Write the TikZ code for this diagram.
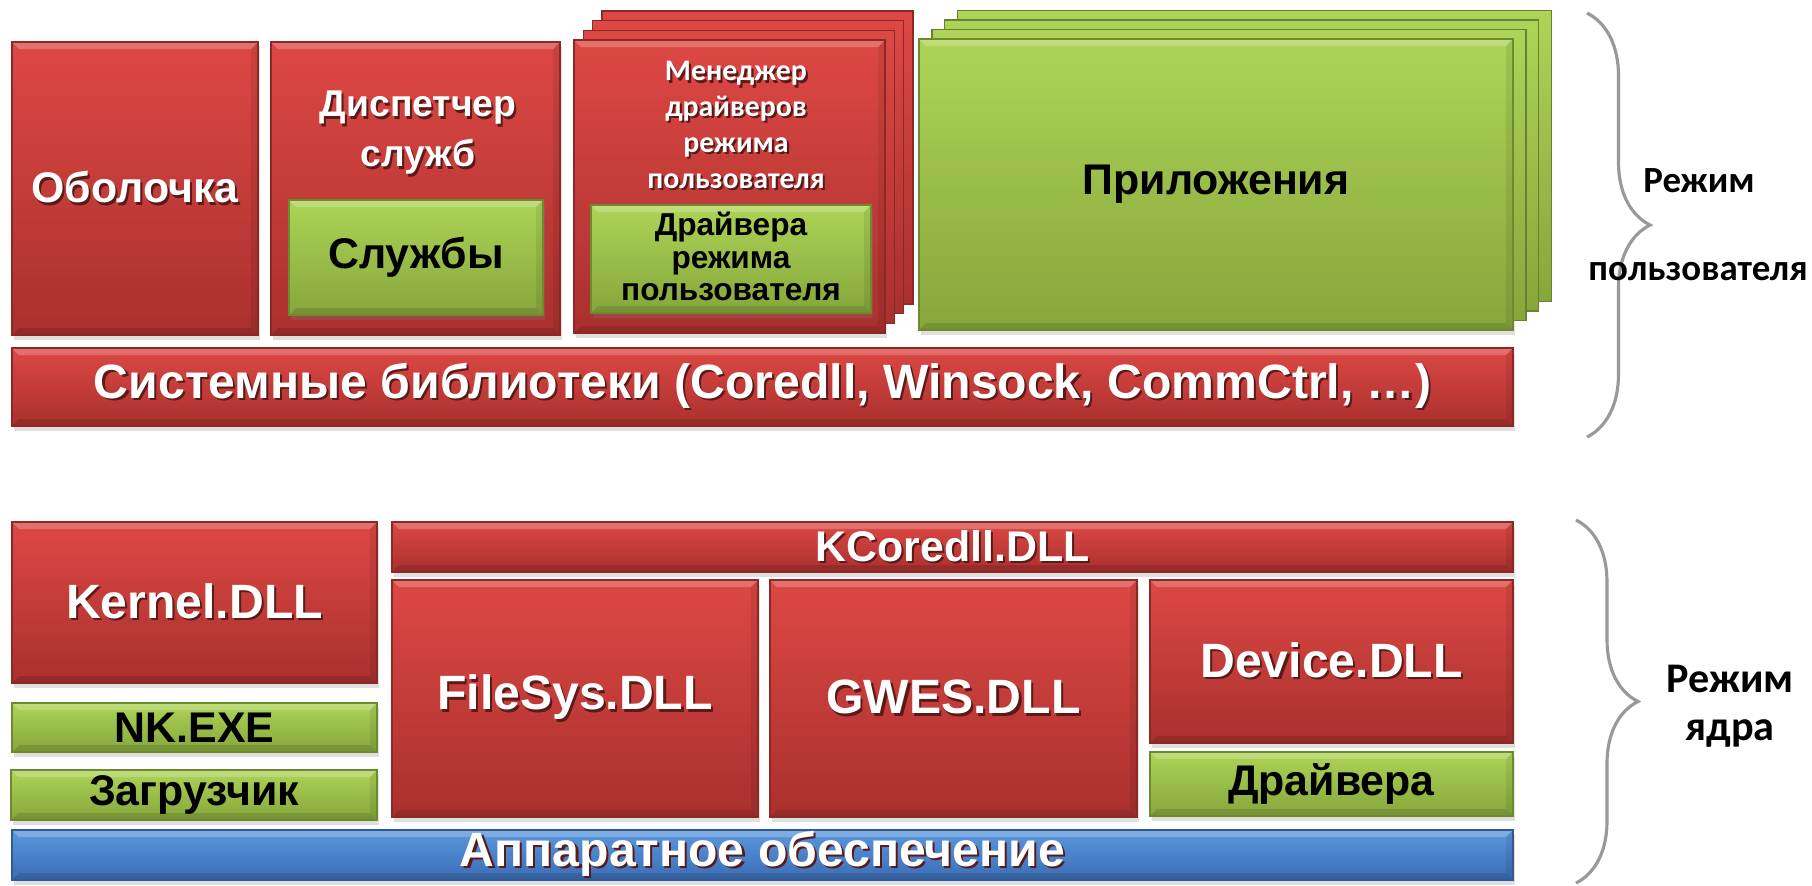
\documentclass[tikz,border=0pt]{standalone}
\usepackage{fontspec}
\setmainfont{Liberation Sans}
\newfontfamily\carlito{Carlito}
\usetikzlibrary{shadows,decorations.pathreplacing}

\definecolor{redtop}{HTML}{DD4844}
\definecolor{redbot}{HTML}{A9302E}
\definecolor{redline}{HTML}{8C2826}
\definecolor{greentop}{HTML}{ADD457}
\definecolor{greenbot}{HTML}{86A63B}
\definecolor{greenline}{HTML}{6E8A2F}
\definecolor{bluetop}{HTML}{5B98DE}
\definecolor{bluebot}{HTML}{3A6DB5}
\definecolor{blueline}{HTML}{2E5A96}
\definecolor{bracegray}{HTML}{999999}
\definecolor{txtshadow}{HTML}{5A1A18}

\newcommand\largetxt{\bfseries\fontsize{13.7}{16}\selectfont}
\newcommand\bigtxt{\bfseries\fontsize{12.2}{15}\selectfont}
\newcommand\midtxt{\bfseries\fontsize{10.6}{14.2}\selectfont}
\newcommand\smalltxt{\bfseries\fontsize{9}{9.2}\selectfont}
% white text with a dark shadow
\newcommand\sh[1]{\leavevmode\rlap{\kern0.6pt\raisebox{-0.7pt}{\textcolor{txtshadow}{#1}}}#1}

\tikzset{
  box/.style={inner sep=0pt, outer sep=0pt, align=center, line width=0.4pt, font=\bigtxt},
  bevel/.style={path picture={
      \fill[white, opacity=0.22] (path picture bounding box.north west) -- (path picture bounding box.north east)
        -- ([shift={(-0.07,-0.07)}]path picture bounding box.north east) -- ([shift={(0.07,-0.07)}]path picture bounding box.north west) -- cycle;
      \fill[black, opacity=0.12] (path picture bounding box.south west) -- (path picture bounding box.south east)
        -- ([shift={(-0.07,0.07)}]path picture bounding box.south east) -- ([shift={(0.07,0.07)}]path picture bounding box.south west) -- cycle;
      \fill[black, opacity=0.08] (path picture bounding box.north east) -- (path picture bounding box.south east)
        -- ([shift={(-0.07,0.07)}]path picture bounding box.south east) -- ([shift={(-0.07,-0.07)}]path picture bounding box.north east) -- cycle;
    }},
  dropshd/.style={drop shadow={opacity=0.25, shadow xshift=0.5pt, shadow yshift=-1.5pt}},
  redbox/.style={box, dropshd, top color=redtop, bottom color=redbot, draw=redline, text=white, bevel},
  greenbox/.style={box, dropshd, top color=greentop, bottom color=greenbot, draw=greenline, text=black, bevel},
  bluebox/.style={box, dropshd, top color=bluetop, bottom color=bluebot, draw=blueline, text=white, bevel},
  layers/.style n args={4}{
    general shadow={shadow xshift=3*#1, shadow yshift=3*#2, top color=#3, bottom color=#4, draw=#3!60!black},
    general shadow={shadow xshift=2*#1, shadow yshift=2*#2, top color=#3, bottom color=#4, draw=#3!60!black},
    general shadow={shadow xshift=#1, shadow yshift=#2, top color=#3, bottom color=#4, draw=#3!60!black}},
  boxtext/.style={inner sep=0pt, align=center},
  modebrace/.style={draw=bracegray, line width=0.9pt, decorate, decoration={brace, amplitude=#1}},
  modetext/.style={font=\carlito\bfseries, anchor=base},
}

\begin{document}
\begin{tikzpicture}
  \path[use as bounding box, fill=white] (0,0) rectangle (18.12,-8.85);

  % user mode
  \node[redbox, minimum width=2.46cm, minimum height=2.93cm] (shell) at (1.35,-1.885) {\sh{Оболочка}};
  \node[redbox, minimum width=2.89cm, minimum height=2.93cm] (dispatcher) at (4.155,-1.885) {};
  \node[boxtext, text=white, font=\midtxt] (dispatcherlbl) at (4.18,-1.34) {\sh{Диспетчер}\\\sh{служб}};
  \node[greenbox, minimum width=2.54cm, minimum height=1.15cm] (services) at (4.16,-2.575) {Службы};

  \node[redbox, layers={0.093cm}{0.097cm}{redtop}{redbot}, minimum width=3.11cm, minimum height=2.93cm] (udm) at (7.295,-1.865) {};
  \node[boxtext, text=white, font=\carlito\bfseries\fontsize{8.5}{10.2}\selectfont] (udmlbl) at (7.36,-1.26)
    {\sh{Менеджер}\\\sh{драйверов}\\\sh{режима}\\\sh{пользователя}};
  \node[greenbox, minimum width=2.80cm, minimum height=1.08cm] (udmdrv) at (7.31,-2.59) {};
  \node[boxtext, font=\smalltxt] (udmdrvlbl) at (7.31,-2.565) {Драйвера\\режима\\пользователя};

  \node[greenbox, layers={0.128cm}{0.095cm}{greentop}{greenbot}, minimum width=5.94cm, minimum height=2.91cm] (apps) at (12.16,-1.845) {Приложения};

  \node[redbox, font=\largetxt, minimum width=15.01cm, minimum height=0.78cm] (syslib) at (7.625,-3.87)
    {\sh{Системные библиотеки (Coredll, Winsock, CommCtrl, …)}};

  % kernel mode
  \node[redbox, font=\largetxt, minimum width=3.65cm, minimum height=1.61cm] (kernel) at (1.945,-6.025) {\sh{Kernel.DLL}};
  \node[greenbox, minimum width=3.65cm, minimum height=0.49cm] (nk) at (1.945,-7.275) {NK.EXE};
  \node[greenbox, minimum width=3.66cm, minimum height=0.50cm] (loader) at (1.94,-7.95) {Загрузчик};
  \node[redbox, minimum width=11.21cm, minimum height=0.50cm] (kcore) at (9.525,-5.47) {\sh{KCoredll.DLL}};
  \node[redbox, font=\largetxt, minimum width=3.66cm, minimum height=2.37cm] (filesys) at (5.75,-6.985) {\sh{FileSys.DLL}};
  \node[redbox, font=\largetxt, minimum width=3.67cm, minimum height=2.37cm] (gwes) at (9.535,-6.985) {\sh{GWES.DLL}};
  \node[redbox, font=\largetxt, minimum width=3.63cm, minimum height=1.63cm] (device) at (13.315,-6.615) {\sh{Device.DLL}};
  \node[greenbox, minimum width=3.63cm, minimum height=0.64cm] (kdrv) at (13.315,-7.84) {Драйвера};
  \node[bluebox, font=\largetxt, minimum width=15.01cm, minimum height=0.50cm] (hw) at (7.625,-8.55) {\sh{Аппаратное обеспечение}};

  % braces
  \coordinate (utop) at (15.87,-0.13);
  \coordinate (ubot) at (15.87,-4.37);
  \coordinate (ktop) at (15.76,-5.20);
  \coordinate (kbot) at (15.76,-8.83);
  \draw[modebrace=0.63cm] (utop) -- (ubot);
  \draw[modebrace=0.62cm] (ktop) -- (kbot);

  \node[modetext, font=\carlito\bfseries\fontsize{10.5}{12}\selectfont] (umode1) at (16.99,-1.92) {Режим};
  \node[modetext, font=\carlito\bfseries\fontsize{10.5}{12}\selectfont] (umode2) at (16.98,-2.80) {пользователя};
  \node[modetext, font=\carlito\bfseries\fontsize{12}{14}\selectfont] (kmode1) at (17.30,-6.92) {Режим};
  \node[modetext, font=\carlito\bfseries\fontsize{12}{14}\selectfont] (kmode2) at (17.30,-7.40) {ядра};
\end{tikzpicture}
\end{document}
